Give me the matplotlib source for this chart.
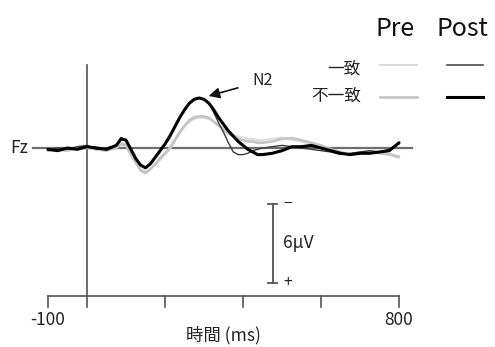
import numpy as np
import matplotlib
matplotlib.use("Agg")
import matplotlib.pyplot as plt

plt.rcParams["font.family"] = ["Noto Sans CJK JP", "DejaVu Sans"]

# time points (ms): denser around the N2 component
times = ([-100, -75, -50, -25, 0, 25, 50]
         + list(np.arange(75, 451, 12.5))
         + list(range(475, 801, 25)))

# ERP amplitudes (µV, negative plotted upward)
post_incongruent = [0.1, 0.2, 0.0, 0.1, -0.1, 0.0, 0.1,
                    -0.2, -0.7, -0.6, 0.1, 0.8, 1.3, 1.5, 1.2, 0.7, 0.2, -0.3, -0.9,
                    -1.6, -2.3, -2.9, -3.4, -3.7, -3.8, -3.7, -3.4, -2.9, -2.3, -1.8,
                    -1.3, -0.9, -0.5, -0.2, 0.1, 0.3, 0.5, 0.5,
                    0.4, 0.2, -0.1, -0.1, -0.2, 0.0, 0.2, 0.4, 0.5, 0.4, 0.4, 0.3, 0.2, -0.4]
post_congruent = [0.2, 0.0, 0.1, -0.1, -0.2, 0.1, 0.0,
                  -0.2, -0.8, -0.6, 0.1, 0.8, 1.3, 1.5, 1.2, 0.7, 0.2, -0.3, -0.9,
                  -1.6, -2.3, -2.9, -3.4, -3.7, -3.8, -3.7, -3.4, -2.7, -1.9, -1.2,
                  -0.4, 0.3, 0.5, 0.5, 0.4, 0.2, 0.1, 0.0,
                  -0.1, -0.2, -0.1, 0.0, 0.1, 0.2, 0.3, 0.5, 0.4, 0.3, 0.2, 0.3, 0.1, -0.3]
pre_incongruent = [0.2, 0.1, 0.2, 0.0, 0.0, 0.1, 0.2,
                   0.0, -0.3, -0.2, 0.5, 1.1, 1.7, 1.9, 1.6, 1.2, 0.8, 0.4, 0.0,
                   -0.6, -1.2, -1.7, -2.1, -2.35, -2.4, -2.4, -2.3, -2.0, -1.7, -1.4,
                   -1.1, -0.9, -0.7, -0.6, -0.5, -0.5, -0.4, -0.4,
                   -0.5, -0.7, -0.75, -0.6, -0.4, -0.2, 0.1, 0.3, 0.5, 0.4, 0.3, 0.4, 0.5, 0.7]
pre_congruent = [0.1, 0.2, 0.1, 0.1, -0.1, 0.0, 0.1,
                 -0.1, -0.4, -0.3, 0.4, 1.0, 1.6, 1.8, 1.6, 1.3, 0.9, 0.5, 0.1,
                 -0.5, -1.1, -1.6, -2.0, -2.2, -2.3, -2.3, -2.2, -2.0, -1.7, -1.5,
                 -1.2, -1.0, -0.9, -0.8, -0.7, -0.7, -0.6, -0.6,
                 -0.7, -0.8, -0.6, -0.5, -0.3, -0.1, 0.2, 0.4, 0.5, 0.3, 0.4, 0.3, 0.4, 0.6]

xtick_pos = [-100, 0, 200, 400, 600, 800]
xtick_labels = {-100: "-100", 800: "800"}
scale_uv = 6

W, H = 495, 347
fig = plt.figure(figsize=(W / 100, H / 100), dpi=100)
ax = fig.add_axes([0, 0, 1, 1])
ax.set_xlim(-223, 1046)
ax.set_ylim(15.11, -11.24)  # negative up
ax.axis("off")

axis_col = "#555555"
txt_col = "#222222"
y_axis = 11.24

# baseline, time axis, zero line
ax.plot([-138, 833], [0, 0], color="#6e6e6e", lw=1.6, zorder=1)
ax.plot([0, 0], [-6.3, y_axis], color=axis_col, lw=1.2, zorder=1)
ax.plot([xtick_pos[0], xtick_pos[-1]], [y_axis, y_axis], color=axis_col, lw=1.2)
for t in xtick_pos:
    ax.plot([t, t], [y_axis, y_axis + 0.85], color=axis_col, lw=1.2)
    if t in xtick_labels:
        ax.text(t, y_axis + 1.1, xtick_labels[t], ha="center", va="top",
                fontsize=12.5, color=txt_col)
ax.text(350, 14.9, "時間 (ms)", ha="center", va="bottom", fontsize=12.5, color=txt_col)

# waveforms
kw = dict(solid_joinstyle="round", solid_capstyle="round")
ax.plot(times, pre_congruent, color="#dcdcdc", lw=1.4, zorder=2, **kw)
ax.plot(times, pre_incongruent, color="#c4c4c4", lw=1.9, zorder=2, **kw)
ax.plot(times, post_congruent, color="#3a3a3a", lw=1.0, zorder=3, **kw)
ax.plot(times, post_incongruent, color="#000000", lw=2.2, zorder=4, **kw)

ax.text(-175, 0, "Fz", ha="center", va="center", fontsize=12.5, color=txt_col)

# N2 annotation
ax.annotate("N2", xy=(312, -3.95), xytext=(451, -5.1), ha="center", va="center",
            fontsize=11.5, color=txt_col,
            arrowprops=dict(arrowstyle="-|>", color="#111111", lw=1.2,
                            shrinkA=9, shrinkB=0, mutation_scale=16))

# scale bar
sb_t, sb_top = 476, 4.25
ax.plot([sb_t, sb_t], [sb_top, sb_top + scale_uv], color=axis_col, lw=1.3)
for yy in (sb_top, sb_top + scale_uv):
    ax.plot([sb_t - 11, sb_t + 11], [yy, yy], color=axis_col, lw=1.3)
ax.text(sb_t + 28, sb_top - 0.05, "−", ha="left", va="center", fontsize=11, color=txt_col)
ax.text(sb_t + 28, sb_top + scale_uv, "+", ha="left", va="center", fontsize=11, color=txt_col)
ax.text(sb_t + 26, sb_top + scale_uv / 2, "6\u03bcV", ha="left", va="center",
        fontsize=12.5, color=txt_col)


# legend
def px(x, y):
    return x / W, 1 - y / H


fig.text(*px(395, 29), "Pre", ha="center", va="center", fontsize=18, color="#111111")
fig.text(*px(462, 29), "Post", ha="center", va="center", fontsize=18, color="#111111")
fig.text(*px(361, 69), "一致", ha="right", va="center", fontsize=12, color=txt_col)
fig.text(*px(361, 96), "不一致", ha="right", va="center", fontsize=12, color=txt_col)
leg = [(65, "#dcdcdc", 1.4, "#3a3a3a", 1.1), (97, "#c4c4c4", 1.9, "#000000", 2.2)]
for y, c_pre, w_pre, c_post, w_post in leg:
    x0, y0 = px(380, y)
    x1, _ = px(417, y)
    fig.add_artist(plt.Line2D([x0, x1], [y0, y0], color=c_pre, lw=w_pre))
    x0, _ = px(447, y)
    x1, _ = px(483, y)
    fig.add_artist(plt.Line2D([x0, x1], [y0, y0], color=c_post, lw=w_post))

fig.savefig("out.png", dpi=100)
